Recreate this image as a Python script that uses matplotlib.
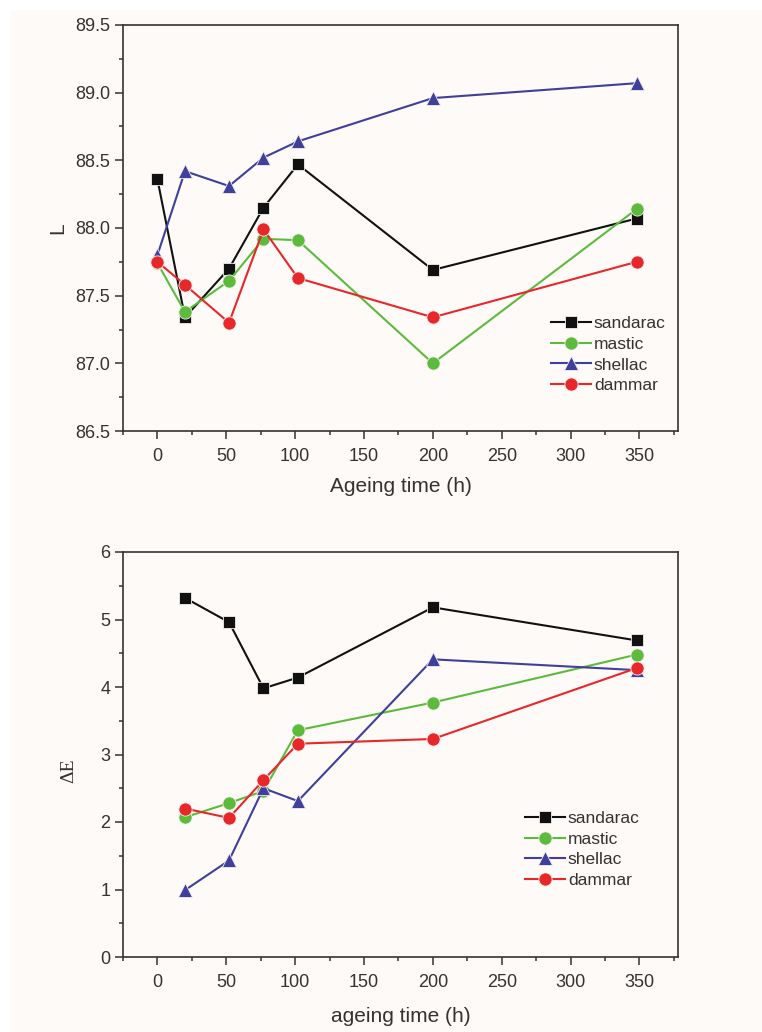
import matplotlib
matplotlib.use("Agg")
import matplotlib.pyplot as plt
from matplotlib.patches import Rectangle
from matplotlib.ticker import MultipleLocator, FormatStrFormatter

plt.rcParams['font.family'] = ['Liberation Sans', 'DejaVu Sans']

# Ageing times (h)
hours_L = [0, 20, 52, 77, 102, 200, 348]
hours_dE = [20, 52, 77, 102, 200, 348]

# Lightness L
L_sandarac = [88.36, 87.34, 87.70, 88.15, 88.47, 87.69, 88.07]
L_mastic = [87.74, 87.38, 87.61, 87.92, 87.91, 87.00, 88.14]
L_shellac = [87.80, 88.42, 88.31, 88.52, 88.64, 88.96, 89.07]
L_dammar = [87.75, 87.58, 87.30, 87.99, 87.63, 87.34, 87.75]

# Colour difference dE
dE_sandarac = [5.32, 4.96, 3.98, 4.14, 5.18, 4.69]
dE_mastic = [2.07, 2.28, 2.46, 3.36, 3.77, 4.48]
dE_shellac = [0.99, 1.43, 2.50, 2.31, 4.41, 4.25]
dE_dammar = [2.20, 2.06, 2.62, 3.16, 3.23, 4.28]

names = ['sandarac', 'mastic', 'shellac', 'dammar']
colors = ['#111111', '#5cbb3c', '#3f3f9c', '#e8272b']
markers = ['s', 'o', '^', 'o']
msizes = [9, 9.5, 10.5, 9.5]

W, H = 762, 1032
fig = plt.figure(figsize=(W / 100, H / 100), dpi=100, facecolor='white')
fig.patches.append(Rectangle((10 / W, 0), 1 - 10 / W, 1 - 10 / H,
                             transform=fig.transFigure, facecolor='#fdfaf7',
                             edgecolor='none', zorder=-10))

ink = '#333333'


def style_axes(ax):
    ax.set_facecolor('none')
    for s in ax.spines.values():
        s.set_color(ink)
        s.set_linewidth(1.2)
    ax.tick_params(which='both', direction='out', top=False, right=False,
                   colors=ink, labelsize=13, width=1.1)
    ax.tick_params(which='major', length=6)
    ax.tick_params(which='minor', length=3)
    ax.tick_params(axis='y', which='major', pad=3)
    ax.tick_params(axis='x', which='major', pad=6)
    ax.xaxis.set_major_locator(MultipleLocator(50))
    ax.xaxis.set_minor_locator(MultipleLocator(25))
    ax.set_xlim(-25, 378)


def draw(ax, x, series, anchor):
    for ys, name, c, m, ms in zip(series, names, colors, markers, msizes):
        ax.plot(x, ys, color=c, lw=1.5, marker=m, ms=ms, mfc=c,
                mec='#f4eeee', mew=0.6, label=name)
    leg = ax.legend(loc='lower right', bbox_to_anchor=anchor, frameon=False,
                    fontsize=12.5, handlelength=2.3, handletextpad=0.15,
                    labelspacing=0.32, borderaxespad=0.3)
    for t in leg.get_texts():
        t.set_color(ink)
    return leg


# Top panel: L
ax1 = fig.add_axes([123 / W, 1 - 431 / H, (678 - 123) / W, (431 - 25) / H])
style_axes(ax1)
draw(ax1, hours_L, [L_sandarac, L_mastic, L_shellac, L_dammar], (1.0, 0.063))
ax1.set_ylim(86.5, 89.5)
ax1.yaxis.set_major_locator(MultipleLocator(0.5))
ax1.yaxis.set_minor_locator(MultipleLocator(0.25))
ax1.yaxis.set_major_formatter(FormatStrFormatter('%.1f'))
ax1.set_xlabel('Ageing time (h)', fontsize=15, color=ink, labelpad=9)
ax1.set_ylabel('L', fontsize=15, color=ink)
ax1.yaxis.set_label_coords(-0.10, 0.5)

# Bottom panel: dE
ax2 = fig.add_axes([123 / W, 1 - 957 / H, (678 - 123) / W, (957 - 552) / H])
style_axes(ax2)
draw(ax2, hours_dE, [dE_sandarac, dE_mastic, dE_shellac, dE_dammar], (0.953, 0.14))
ax2.set_ylim(0, 6)
ax2.yaxis.set_major_locator(MultipleLocator(1))
ax2.yaxis.set_minor_locator(MultipleLocator(0.5))
ax2.set_xlabel('ageing time (h)', fontsize=15, color=ink, labelpad=12)
ax2.set_ylabel('ΔE', fontsize=14, color=ink,
               family=['Liberation Serif', 'DejaVu Serif'])
ax2.yaxis.set_label_coords(-0.083, 0.459)

fig.savefig('out.png', dpi=100, facecolor=fig.get_facecolor())
